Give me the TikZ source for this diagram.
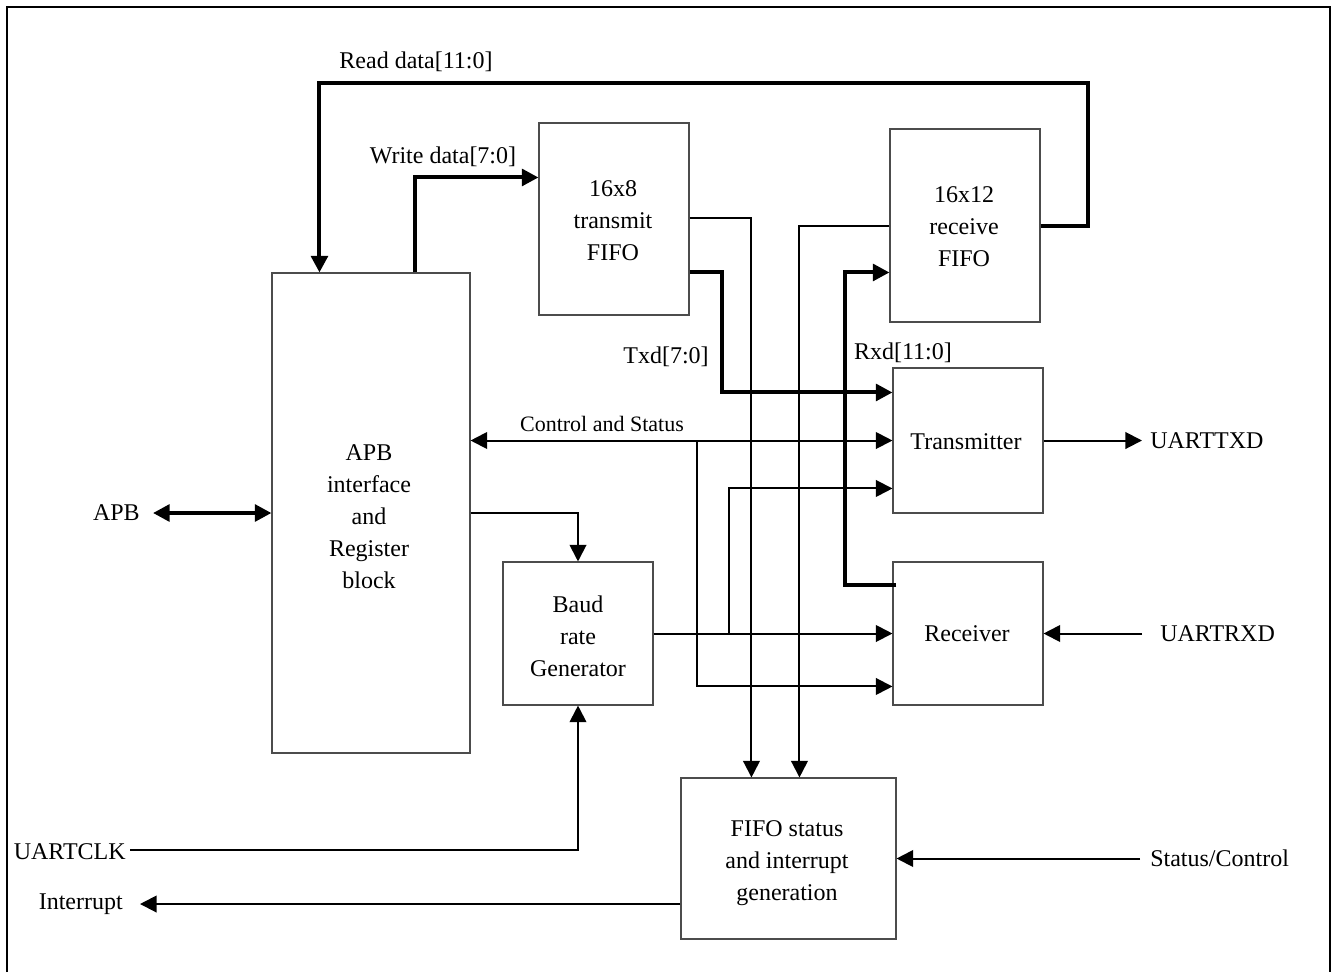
\documentclass[tikz,border=0pt]{standalone}
\usepackage{fontspec}
\setmainfont{Liberation Serif}
\usetikzlibrary{arrows.meta,calc,fit}
\begin{document}
\begin{tikzpicture}[x=0.75pt,y=-0.75pt,
  box/.style={draw=black!70,line width=0.8pt,inner sep=0pt},
  btxt/.style={inner sep=0pt,align=center,font=\fontsize{18}{24}\selectfont},
  lbl/.style={inner sep=0pt,font=\fontsize{18}{24}\selectfont},
  thn/.style={line width=1.5pt,black},
  thk/.style={line width=3pt,black},
  tip/.style={-{Triangle[length=12.5pt,width=12.5pt]}},
  dtip/.style={{Triangle[length=12.5pt,width=12.5pt]}-{Triangle[length=12.5pt,width=12.5pt]}},
  frame/.style={line width=1.5pt,black}]
\useasboundingbox (0,0) rectangle (1331,972);
\draw[frame] (7,972) -- (7,7) -- (1330,7) -- (1330,972);

% blocks
\node[box, fit={(272,273) (470,753)}] (apb) {};
\node[box, fit={(539,123) (689,315)}] (tfifo) {};
\node[box, fit={(890,129) (1040,322)}] (rfifo) {};
\node[box, fit={(893,368) (1043,513)}] (tx) {};
\node[box, fit={(893,562) (1043,705)}] (rx) {};
\node[box, fit={(503,562) (653,705)}] (baud) {};
\node[box, fit={(681,778) (896,939)}] (fstat) {};

% block texts
\node[btxt] (apbt) at (369,517) {APB\\interface\\and\\Register\\block};
\node[btxt] (tfifot) at (613,221) {16x8\\transmit\\FIFO};
\node[btxt] (rfifot) at (964,227) {16x12\\receive\\FIFO};
\node[btxt] (txt) at (966,442) {Transmitter};
\node[btxt] (rxt) at (967,634) {Receiver};
\node[btxt] (baudt) at (578,636) {Baud\\rate\\Generator};
\node[btxt] (fstatt) at (787,863) {FIFO status\\and interrupt\\generation};

% outside labels
\node[lbl] (rdl) at (416,62) {Read data[11:0]};
\node[lbl] (wdl) at (443,157) {Write data[7:0]};
\node[lbl] (txdl) at (666,357) {Txd[7:0]};
\node[lbl] (rxdl) at (903,353) {Rxd[11:0]};
\node[lbl,font=\fontsize{16.5}{20}\selectfont] (csl) at (602,424) {Control and Status};
\node[lbl,anchor=west] (utx) at (1150,440.5) {UARTTXD};
\node[lbl,anchor=west] (urx) at (1160,633.5) {UARTRXD};
\node[lbl,anchor=west] (scl) at (1150,858.5) {Status/Control};
\node[lbl,anchor=east] (apbl) at (140,513) {APB};
\node[lbl,anchor=east] (clk) at (126,852) {UARTCLK};
\node[lbl,anchor=east] (intl) at (123,904) {Interrupt};

% thick data buses
\draw[thk,tip] (rfifo.east) -| (1088,83) -| ($(apb.north west)+(48,0)$);
\draw[thk,tip] ($(apb.north west)+(144,0)$) |- ($(tfifo.north west)+(0,55)$);
\draw[thk,tip] ($(tfifo.north east)+(0,150)$) -| ($(tx.north west)+(-170,25)$) -- ($(tx.north west)+(0,25)$);
\draw[thk,tip] ($(rx.north west)+(4,24)$) -| ($(rfifo.north west)+(-44,144)$) -- ($(rfifo.north west)+(0,144)$);
\draw[thk,dtip] ($(apbl.east)+(13,0)$) -- (apb.west);

% thin signals
\draw[thn,tip] ($(tfifo.north east)+(0,96)$) -| ($(fstat.north west)+(71,0)$);
\draw[thn,tip] (rfifo.west) -| ($(fstat.north west)+(119,0)$);
\draw[thn,dtip] (tx.west -| apb.east) -- (tx.west);
\draw[thn,tip] ($(tx.west)+(-195,0)$) |- ($(rx.north west)+(0,125)$);
\draw[thn,tip] (apb.east) -| (baud.north);
\draw[thn,tip] (baud.east) -- (rx.west);
\draw[thn,tip] ($(baud.east)+(75,0)$) |- ($(tx.north west)+(0,121)$);
\draw[thn,tip] (tx.east) -- ($(utx.west)+(-8,0)$);
\draw[thn,tip] ($(urx.west)+(-18,0)$) -- (rx.east);
\draw[thn,tip] ($(scl.west)+(-10,0)$) -- (fstat.east);
\draw[thn,tip] ($(clk.east)+(4,-2)$) -| (baud.south);
\draw[thn,tip] (fstat.west |- intl.east) -- ($(intl.east)+(17,0)$);
\end{tikzpicture}
\end{document}
